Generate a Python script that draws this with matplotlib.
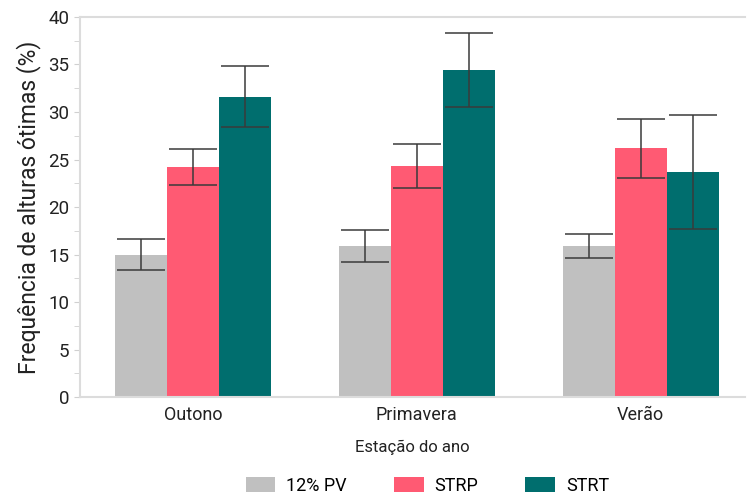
import numpy as np
import matplotlib.pyplot as plt
from matplotlib.ticker import MultipleLocator

# data
seasons = ["Outono", "Primavera", "Verão"]
series = ["12% PV", "STRP", "STRT"]
means = {
    "12% PV": [15.0, 15.9, 15.9],
    "STRP": [24.2, 24.3, 26.2],
    "STRT": [31.6, 34.4, 23.7],
}
errs = {
    "12% PV": [1.6, 1.7, 1.3],
    "STRP": [1.9, 2.3, 3.1],
    "STRT": [3.2, 3.9, 6.0],
}
colors = {"12% PV": "#c0c0c0", "STRP": "#ff5a73", "STRT": "#006e6e"}

plt.rcParams['font.family'] = ['Roboto', 'DejaVu Sans']

fig = plt.figure(figsize=(7.47, 4.99), dpi=100)
ax = fig.add_axes([0.107, 0.204, 0.89, 0.762])

x = np.arange(len(seasons))
w = 0.232
for i, s in enumerate(series):
    ax.bar(x + (i - 1) * w, means[s], w, color=colors[s], label=s,
           yerr=errs[s], capsize=17,
           error_kw=dict(ecolor='#3a3a3a', elinewidth=1.1, capthick=1.1))

ax.set_ylim(0, 40)
ax.set_xlim(-0.505, 2.465)
ax.yaxis.set_major_locator(MultipleLocator(5))
ax.yaxis.set_minor_locator(MultipleLocator(2.5))
ax.set_xticks(x)
ax.set_xticklabels(seasons, fontsize=13, color='#222222')
ax.tick_params(axis='x', length=0, pad=6)
ax.tick_params(axis='y', which='both', labelsize=13.5, colors='#222222', length=4,
               direction='out')
ax.tick_params(axis='y', which='both', color='#d0d0d0')

for sp in ax.spines.values():
    sp.set_color('#dcdcdc')
    sp.set_linewidth(1.5)
ax.spines['right'].set_visible(False)

ax.set_ylabel("Frequência de alturas ótimas (%)", fontsize=16.5, color='#222222',
              labelpad=5)
ax.set_xlabel("Estação do ano", fontsize=12, color='#222222', labelpad=12)

fig.legend(loc='lower center', ncol=3, frameon=False, fontsize=13,
           bbox_to_anchor=(0.572, -0.024), handlelength=1.65, handleheight=0.9,
           columnspacing=2.6, handletextpad=0.6)

fig.savefig("out.png", dpi=100)
